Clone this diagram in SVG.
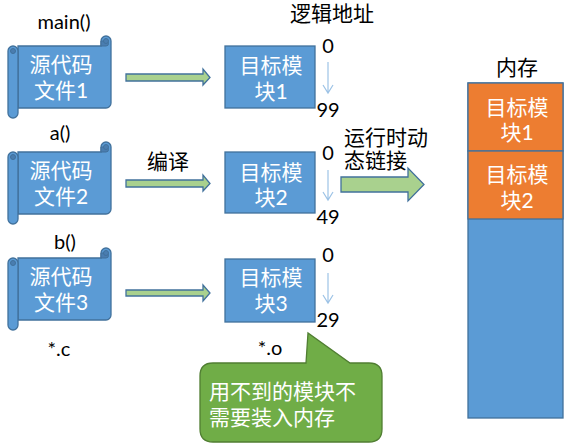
<svg xmlns="http://www.w3.org/2000/svg" width="571" height="447" viewBox="0 0 571 447">
<defs>
<style>
text{font-family:"Lato","Noto Sans CJK SC",sans-serif;}
.lbl{font-size:20px;fill:#000;text-anchor:middle;}
.cj{font-size:21px;fill:#000;}
.wt{font-size:21px;fill:#fff;text-anchor:middle;}
.scroll{fill:#5B9BD5;stroke:#41719C;stroke-width:1.3;}
.curl{fill:#4A7DB0;stroke:#41719C;stroke-width:1;}
.box{fill:#5B9BD5;stroke:#41719C;stroke-width:1.3;}
.org{fill:#ED7D31;stroke:#41719C;stroke-width:1.3;}
.garr{fill:#A9D18E;stroke:#41719C;stroke-width:1.3;}
.thin{fill:none;stroke:#9DC3E6;stroke-width:1.2;}
</style>
<g id="scrollShape">
<path class="scroll" d="M18,46 L101,46 L101,41 A5,5 0 0 1 111,41 L111,103 A5,5 0 0 1 106,108 L18,108 Z"/>
<path class="curl" d="M101,46 L106,46 A2.5,2.5 0 0 0 106,41 L101,41 Z"/>
<circle class="curl" cx="106" cy="41" r="2.5"/>
<path class="scroll" d="M8,51 A5,5 0 0 1 18,51 L18,113 A5,5 0 0 1 8,113 Z"/>
<circle class="curl" cx="13" cy="51" r="2.5"/>
</g>
</defs>

<g id="connectors">
<path class="garr" d="M126,74 L203,74 L203,69 L210,77.5 L203,85 L203,81 L126,81 Z"/>
<path class="garr" d="M126,180 L203,180 L203,175 L210,183.5 L203,191 L203,187 L126,187 Z"/>
<path class="garr" d="M126,290 L203,290 L203,285 L210,293 L203,301 L203,296 L126,296 Z"/>
<path class="garr" d="M341,177 L408,177 L408,168 L424,184.5 L408,201 L408,192 L341,192 Z"/>
<path class="thin" d="M328,62 L328,93 M323,85 L328,93 L333,85"/>
<path class="thin" d="M328,170 L328,200 M323,192 L328,200 L333,192"/>
<path class="thin" d="M328,273 L328,303 M323,295 L328,303 L333,295"/>
</g>

<g id="src1">
<use href="#scrollShape"/>
<text class="wt" x="61" y="72">源代码</text>
<text class="wt" x="61" y="98">文件1</text>
</g>
<g id="src2">
<use href="#scrollShape" y="106"/>
<text class="wt" x="61" y="178">源代码</text>
<text class="wt" x="61" y="204">文件2</text>
</g>
<g id="src3">
<use href="#scrollShape" y="212"/>
<text class="wt" x="61" y="284">源代码</text>
<text class="wt" x="61" y="310">文件3</text>
</g>

<g id="obj1">
<rect class="box" x="225" y="46" width="90" height="62"/>
<text class="wt" x="271" y="73">目标模</text>
<text class="wt" x="271" y="99">块1</text>
</g>
<g id="obj2">
<rect class="box" x="225" y="152" width="90" height="61"/>
<text class="wt" x="271" y="180">目标模</text>
<text class="wt" x="271" y="205">块2</text>
</g>
<g id="obj3">
<rect class="box" x="225" y="259" width="90" height="63"/>
<text class="wt" x="271" y="285">目标模</text>
<text class="wt" x="271" y="311">块3</text>
</g>

<g id="memory">
<rect class="box" x="468" y="83" width="95" height="335"/>
<rect class="org" x="468" y="83" width="95" height="68"/>
<rect class="org" x="468" y="151" width="95" height="68"/>
<text class="wt" x="517" y="115">目标模</text>
<text class="wt" x="517" y="140">块1</text>
<text class="wt" x="517" y="182">目标模</text>
<text class="wt" x="517" y="208">块2</text>
</g>

<g id="callout">
<path d="M213,363 L306,363 L308,333 L350,363 L369,363 Q382,363 382,376 L382,429 Q382,442 369,442 L213,442 Q200,442 200,429 L200,376 Q200,363 213,363 Z" fill="#70AD47" stroke="#507E32" stroke-width="1.3"/>
<text class="wt" x="209" y="399" style="text-anchor:start">用不到的模块不</text>
<text class="wt" x="209" y="425" style="text-anchor:start">需要装入内存</text>
</g>

<g id="labels">
<text class="lbl" x="64" y="29">main()</text>
<text class="lbl" x="60" y="140">a()</text>
<text class="lbl" x="65" y="249">b()</text>
<text class="lbl" x="59" y="356">*.c</text>
<text class="lbl" x="270" y="355">*.o</text>
<text class="cj" x="332" y="21" text-anchor="middle">逻辑地址</text>
<text class="cj" x="168" y="169" text-anchor="middle">编译</text>
<text class="cj" x="344" y="145">运行时动</text>
<text class="cj" x="344" y="168">态链接</text>
<text class="cj" x="517" y="75" text-anchor="middle">内存</text>
<text class="lbl" x="328" y="53">0</text>
<text class="lbl" x="328" y="117">99</text>
<text class="lbl" x="328" y="160">0</text>
<text class="lbl" x="328" y="224">49</text>
<text class="lbl" x="328" y="262">0</text>
<text class="lbl" x="328" y="327">29</text>
</g>
</svg>
